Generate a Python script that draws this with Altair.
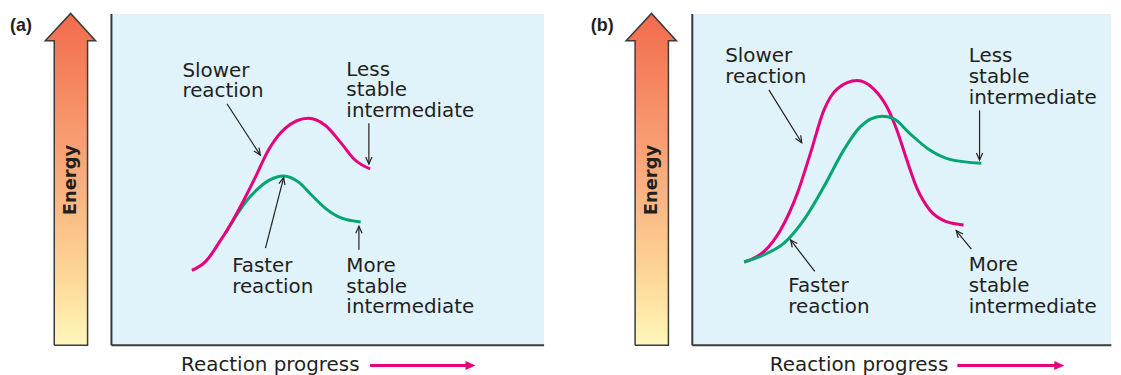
import math
import altair as alt
import pandas as pd

# ---------------- data (progress: 0-100 across plot area, energy: 0-100 bottom to top) ----------------
panel_names = ["(a)", "(b)"]
x_title = "Reaction progress"
y_title = "Energy"

a_slow_x = [18.6, 21.8, 24.8, 27.9, 31.0, 33.3, 36.3, 40.2, 45.5, 49.4, 53.1, 56.3, 59.8]
a_slow_y = [22.6, 25.3, 30.8, 37.3, 44.8, 50.8, 58.9, 65.5, 68.5, 66.4, 61.0, 55.9, 53.2]
a_fast_x = [26.4, 28.5, 31.0, 33.6, 36.6, 39.8, 43.2, 46.2, 49.4, 53.1, 57.6]
a_fast_y = [33.9, 38.4, 43.2, 46.9, 49.9, 51.1, 49.3, 45.4, 41.4, 38.4, 37.2]

b_slow_x = [12.0, 16.6, 20.4, 24.3, 27.3, 30.4, 33.5, 38.1, 41.9, 45.0, 47.3, 49.6, 51.8, 54.9, 58.7, 62.7]
b_slow_y = [25.1, 28.3, 34.8, 45.9, 57.9, 70.9, 77.4, 79.9, 77.4, 71.9, 64.9, 55.9, 47.8, 40.8, 37.3, 36.3]
b_fast_x = [12.0, 16.6, 21.2, 25.8, 30.4, 35.0, 38.8, 43.8, 46.5, 50.3, 54.9, 59.5, 66.8]
b_fast_y = [25.1, 27.3, 30.8, 37.8, 47.8, 58.9, 65.9, 69.1, 68.4, 63.9, 58.9, 56.1, 54.9]

label_text = ["Slower\nreaction", "Less\nstable\nintermediate",
              "Faster\nreaction", "More\nstable\nintermediate"]
a_label_x = [16.4, 54.3, 27.9, 54.3]
a_label_y = [81.1, 81.4, 22.2, 22.2]
b_label_x = [7.6, 63.9, 22.2, 63.9]
b_label_y = [85.4, 85.4, 16.0, 22.3]

# pointer arrows: start -> tip
a_ptr_x0 = [26.7, 59.5, 35.6, 57.2]
a_ptr_y0 = [72.9, 67.0, 29.3, 28.8]
a_ptr_x1 = [34.4, 59.5, 39.8, 57.2]
a_ptr_y1 = [57.4, 54.7, 50.6, 35.9]
b_ptr_x0 = [17.7, 66.4, 28.3, 64.5]
b_ptr_y0 = [77.1, 70.9, 22.3, 29.0]
b_ptr_x1 = [25.3, 66.4, 22.7, 61.0]
b_ptr_y1 = [61.1, 55.9, 31.8, 34.6]

# ---------------- layout & style ----------------
PX_U = 4.35      # px per progress unit
PX_V = 3.33      # px per energy unit
LEFT_PAD = 104   # px from panel's left edge to plot area
TOP_PAD = 5      # px from panel top to plot area top
PLOT_H = 333
H = 367
W_A = 584
W_B = 521
LINE_H = 21

MAGENTA = "#E6007E"
GREEN = "#00A56F"
BLUE = "#E0F2FA"
TEXT = "#231F20"
AXIS = "#3A3A3A"
FONT = "DejaVu Sans"


def u_of(px):
    return (px - LEFT_PAD) / PX_U


def v_of(py):
    return (TOP_PAD + PLOT_H - py) / PX_V


def angle_of(x0, y0, x1, y1):
    dxp = (x1 - x0) * PX_U
    dyp = -(y1 - y0) * PX_V
    return (math.degrees(math.atan2(dxp, -dyp)) + 360) % 360


def label_rows(xs_, ys_):
    rows = []
    for t, x, y in zip(label_text, xs_, ys_):
        for k, line in enumerate(t.split("\n")):
            rows.append({"x": x, "y": y - k * LINE_H / PX_V, "t": line})
    return pd.DataFrame(rows)


def panel(name, W, right_u, slow_x, slow_y, fast_x, fast_y, lab_x, lab_y,
          px0, py0, px1, py1, title_px, arrow_px0, arrow_px1, green_on_top):
    xs = alt.Scale(domain=[u_of(0), u_of(W)], nice=False, zero=False)
    ys = alt.Scale(domain=[v_of(H), v_of(0)], nice=False, zero=False)
    X = lambda f: alt.X(f, type="quantitative", scale=xs, axis=None)
    Y = lambda f: alt.Y(f, type="quantitative", scale=ys, axis=None)

    bg = alt.Chart(pd.DataFrame({"x0": [0.0], "x1": [right_u], "y0": [0.0], "y1": [100.0]})).mark_rect(
        color=BLUE).encode(x=X("x0"), x2="x1", y=Y("y0"), y2="y1")

    axes_df = pd.DataFrame({"x0": [0.0, 0.0], "x1": [0.0, right_u], "y0": [0.0, 0.0], "y1": [100.0, 0.0]})
    axes = alt.Chart(axes_df).mark_rule(color=AXIS, strokeWidth=2).encode(
        x=X("x0"), x2="x1", y=Y("y0"), y2="y1")

    # energy arrow (gradient block arrow)
    sx0, sx1, hx0, hx1, tipx = 46.5, 80.0, 37.5, 88.0, 63.0
    tipy, basey, boty = 4.5, 32.0, 338.0
    poly_px = [(sx0, boty), (sx0, basey), (hx0, basey), (tipx, tipy), (hx1, basey),
               (sx1, basey), (sx1, boty), (sx0, boty)]
    poly = pd.DataFrame({"x": [u_of(p[0]) for p in poly_px],
                         "y": [v_of(p[1]) for p in poly_px],
                         "i": list(range(len(poly_px)))})
    grad = alt.Gradient(gradient="linear", x1=0, y1=0, x2=0, y2=1, stops=[
        alt.GradientStop(offset=0.0, color="#F26B4C"),
        alt.GradientStop(offset=0.45, color="#F8A678"),
        alt.GradientStop(offset=0.8, color="#FDD898"),
        alt.GradientStop(offset=1.0, color="#FFF8BA")])
    earrow = alt.Chart(poly).mark_line(fill=grad, stroke=AXIS, strokeWidth=1.5,
                                       strokeJoin="miter").encode(
        x=X("x"), y=Y("y"), order="i:Q")

    etext = alt.Chart(pd.DataFrame({"x": [u_of(63.5)], "y": [v_of(172)], "t": [y_title]})).mark_text(
        angle=270, font=FONT, fontWeight="bold", fontSize=18,
        color=TEXT, align="center", baseline="middle").encode(x=X("x"), y=Y("y"), text="t:N")

    ptag = alt.Chart(pd.DataFrame({"x": [u_of(2)], "y": [v_of(22)], "t": [name]})).mark_text(
        font="Liberation Sans", fontWeight="bold", fontSize=18, color=TEXT,
        align="left", baseline="alphabetic").encode(x=X("x"), y=Y("y"), text="t:N")

    slow = alt.Chart(pd.DataFrame({"x": slow_x, "y": slow_y, "i": range(len(slow_x))})).mark_line(
        color=MAGENTA, strokeWidth=3, interpolate="monotone").encode(x=X("x"), y=Y("y"), order="i:Q")
    fast = alt.Chart(pd.DataFrame({"x": fast_x, "y": fast_y, "i": range(len(fast_x))})).mark_line(
        color=GREEN, strokeWidth=3, interpolate="monotone").encode(x=X("x"), y=Y("y"), order="i:Q")

    labels = alt.Chart(label_rows(lab_x, lab_y)).mark_text(
        font=FONT, fontSize=20, color=TEXT,
        align="left", baseline="alphabetic").encode(x=X("x"), y=Y("y"), text="t:N")

    ptr_df = pd.DataFrame({"x0": px0, "y0": py0, "x1": px1, "y1": py1})
    ptr_df["ang"] = [angle_of(a, b, c, d) for a, b, c, d in zip(px0, py0, px1, py1)]
    ptr = alt.Chart(ptr_df).mark_rule(color=TEXT, strokeWidth=1.2).encode(
        x=X("x0"), x2="x1", y=Y("y0"), y2="y1")
    heads = alt.Chart(ptr_df).mark_point(
        shape="M-0.45,1L0,0L0.45,1", filled=False, stroke=TEXT, strokeWidth=1.2,
        size=196, opacity=1).encode(x=X("x1"), y=Y("y1"),
                                    angle=alt.Angle("ang:Q", scale=None))

    # x title with magenta arrow
    xt = alt.Chart(pd.DataFrame({"x": [u_of(title_px)], "y": [v_of(364)], "t": [x_title]})).mark_text(
        font=FONT, fontSize=20, color=TEXT, align="left", baseline="alphabetic").encode(
        x=X("x"), y=Y("y"), text="t:N")
    xa = alt.Chart(pd.DataFrame({"x0": [u_of(arrow_px0)], "x1": [u_of(arrow_px1 - 9)],
                                 "y": [v_of(358.5)]})).mark_rule(color=MAGENTA, strokeWidth=3).encode(
        x=X("x0"), x2="x1", y=Y("y"))
    xh = alt.Chart(pd.DataFrame({"x": [u_of(arrow_px1)], "y": [v_of(358.5)]})).mark_point(
        shape="M-2,-0.9L0,0L-2,0.9Z", filled=True, color=MAGENTA, size=100, opacity=1).encode(
        x=X("x"), y=Y("y"))

    curves = [slow, fast] if green_on_top else [fast, slow]
    return alt.layer(bg, axes, earrow, etext, ptag, *curves, labels, ptr, heads, xt, xa, xh).properties(
        width=W, height=H)


pa = panel(panel_names[0], W_A, 100.0, a_slow_x, a_slow_y, a_fast_x, a_fast_y, a_label_x, a_label_y,
           a_ptr_x0, a_ptr_y0, a_ptr_x1, a_ptr_y1, 174, 364, 470, False)
pb = panel(panel_names[1], W_B, u_of(W_B) + 1, b_slow_x, b_slow_y, b_fast_x, b_fast_y, b_label_x, b_label_y,
           b_ptr_x0, b_ptr_y0, b_ptr_x1, b_ptr_y1, 182, 370.5, 478, True)

chart = alt.hconcat(pa, pb, spacing=0).properties(padding=0, background="white").configure_view(
    stroke=None)

chart.save("out.html", embed_options={"renderer": "svg", "actions": False})
